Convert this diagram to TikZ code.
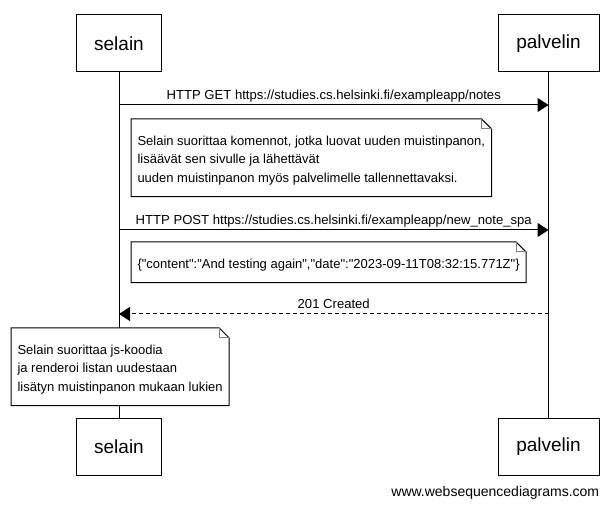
\documentclass[tikz,border=0pt]{standalone}
\usepackage{fontspec}
\setmainfont{Liberation Sans}[Ligatures=TeXOff]
\usetikzlibrary{arrows.meta, positioning, calc}

\begin{document}
\begin{tikzpicture}[x=1pt,y=-1pt,line width=1pt,
    actor/.style={rectangle,draw,minimum height=57pt,font=\fontsize{19}{22}\selectfont},
    note/.style={rectangle,fill=white,anchor=north west,align=left,inner xsep=6pt,inner ysep=11pt,font=\fontsize{13}{18.5}\selectfont},
    msg/.style={-{Triangle[length=11pt,width=14pt]}},
    reply/.style={msg,dash pattern=on 4pt off 3pt},
    lbl/.style={midway,above,inner sep=1.5pt,text height=10pt,text depth=3pt,font=\fontsize{13.1}{15}\selectfont}]
    \useasboundingbox (0,0) rectangle (613,510);
    \node[actor,minimum width=85pt] (selainTop) at (119,43.5) {selain};
    \node[actor,minimum width=101pt] (palvelinTop) at (548.5,43.5) {palvelin};
    \node[actor,minimum width=85pt] (selainBot) at (119,446.5) {selain};
    \node[actor,minimum width=101pt] (palvelinBot) at (548.5,446.5) {palvelin};
    \draw (selainTop) -- (selainBot);
    \draw (palvelinTop) -- (palvelinBot);

    \coordinate (getS) at (selainTop |- 0,105);
    \coordinate (getP) at (palvelinTop |- 0,105);
    \coordinate (postS) at (selainTop |- 0,230);
    \coordinate (postP) at (palvelinTop |- 0,230);
    \coordinate (okS) at (selainTop |- 0,314);
    \coordinate (okP) at (palvelinTop |- 0,314);
    \draw[msg] (getS) -- node[lbl] {HTTP GET https://studies.cs.helsinki.fi/exampleapp/notes} (getP);
    \draw[msg] (postS) -- node[lbl] {HTTP POST https://studies.cs.helsinki.fi/exampleapp/new\_note\_spa} (postP);
    \draw[reply] (okP) -- node[lbl] {201 Created} (okS);

    \node[note] (noteSpa) at (131,119) {\rule{0pt}{15pt}Selain suorittaa komennot, jotka luovat uuden muistinpanon,\\
        lisäävät sen sivulle ja lähettävät\\
        uuden muistinpanon myös palvelimelle tallennettavaksi.};
    \node[note] (noteJson) at (131,242) {\rule{0pt}{15pt}\{"content":"And testing again","date":"2023-09-11T08:32:15.771Z"\}};
    \node[note] (noteRender) at (11,328) {\rule{0pt}{15pt}Selain suorittaa js-koodia\\
        ja renderoi listan uudestaan\\
        lisätyn muistinpanon mukaan lukien};
    \foreach \n in {noteSpa,noteJson,noteRender} {
        \draw (\n.north west) -- ([xshift=-10pt]\n.north east) -- ([yshift=-10pt]\n.north east)
            -- (\n.south east) -- (\n.south west) -- cycle;
        \draw[gray] ([xshift=-10pt]\n.north east) -- ++(0,10) -- ++(10,0);
    }

    \node[anchor=east,font=\fontsize{14}{16}\selectfont] (credit) at (603,493) {www.websequencediagrams.com};
\end{tikzpicture}
\end{document}
